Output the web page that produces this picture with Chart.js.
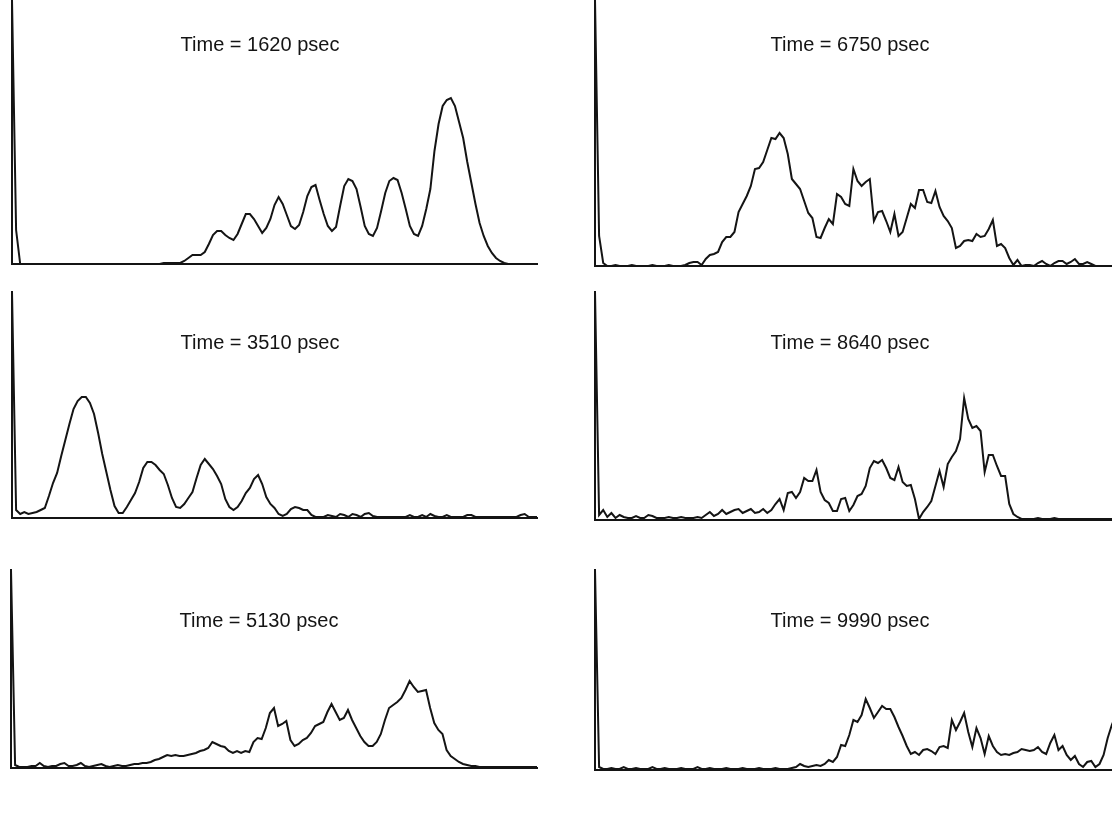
<!DOCTYPE html>
<html>
<head>
<meta charset="utf-8">
<script src="https://cdn.jsdelivr.net/npm/chart.js@4.4.1/dist/chart.umd.min.js"></script>
<style>
  html, body { margin: 0; padding: 0; background: #fff; }
  body { position: relative; width: 1112px; height: 825px; overflow: hidden; }
  canvas { position: absolute; }
</style>
</head>
<body>
<canvas id="c1620"></canvas>
<canvas id="c6750"></canvas>
<canvas id="c3510"></canvas>
<canvas id="c8640"></canvas>
<canvas id="c5130"></canvas>
<canvas id="c9990"></canvas>
<script>
// Time-of-flight channel numbers (0..128)
const channels = Array.from({ length: 129 }, (_, i) => i);

// Counts per channel (arbitrary units) at each snapshot time
const t1620 = [
  264, 34, 0, 0, 0, 0, 0, 0, 0, 0,
  0, 0, 0, 0, 0, 0, 0, 0, 0, 0,
  0, 0, 0, 0, 0, 0, 0, 0, 0, 0,
  0, 0, 0, 0, 0, 0, 0, 1, 1, 1,
  1, 1, 3, 6, 9, 9, 9, 12, 20, 29,
  33, 33, 29, 26, 24, 30, 40, 50, 50, 45,
  38, 31, 36, 45, 59, 67, 60, 49, 38, 35,
  39, 52, 68, 77, 79, 64, 50, 38, 33, 37,
  58, 78, 85, 83, 75, 57, 38, 30, 28, 36,
  53, 71, 83, 86, 84, 71, 55, 38, 30, 28,
  38, 55, 75, 113, 140, 158, 164, 166, 158, 142,
  126, 102, 81, 60, 41, 28, 18, 11, 6, 3,
  1, 0, 0, 0, 0, 0, 0, 0, 0
];

const t6750 = [
  266, 30, 3, 0, 0, 1, 0, 0, 0, 1,
  0, 0, 0, 0, 1, 0, 0, 0, 1, 0,
  0, 0, 1, 3, 4, 4, 1, 7, 11, 12,
  14, 24, 29, 29, 34, 54, 62, 70, 80, 97,
  98, 104, 116, 128, 127, 133, 128, 112, 87, 82,
  77, 65, 53, 48, 29, 28, 38, 47, 42, 72,
  69, 62, 60, 97, 85, 80, 84, 87, 45, 54,
  55, 45, 34, 52, 30, 34, 48, 62, 58, 76,
  76, 64, 63, 75, 59, 50, 45, 38, 18, 20,
  25, 26, 25, 32, 29, 30, 37, 46, 20, 22,
  18, 8, 1, 6, 0, 1, 1, 0, 3, 5,
  2, 0, 3, 5, 5, 2, 4, 7, 2, 2,
  4, 2, 0, 0, 0, 0, 0, 0, 0
];

const t3510 = [
  226, 8, 4, 6, 4, 5, 6, 8, 10, 22,
  35, 45, 62, 78, 94, 109, 117, 121, 121, 115,
  104, 85, 64, 46, 28, 12, 5, 5, 11, 18,
  25, 36, 50, 56, 56, 53, 48, 44, 33, 20,
  11, 10, 14, 20, 26, 40, 53, 59, 54, 49,
  42, 34, 19, 11, 8, 11, 17, 25, 30, 39,
  43, 34, 21, 14, 10, 4, 2, 4, 9, 11,
  10, 8, 8, 3, 1, 1, 1, 3, 2, 1,
  4, 3, 1, 4, 3, 1, 4, 5, 2, 1,
  1, 1, 1, 1, 1, 1, 1, 3, 1, 1,
  3, 1, 4, 2, 1, 1, 3, 1, 1, 1,
  1, 3, 3, 1, 1, 1, 1, 1, 1, 1,
  1, 1, 1, 1, 3, 4, 1, 1, 1
];

const t8640 = [
  228, 5, 10, 3, 7, 2, 5, 3, 2, 2,
  4, 2, 2, 5, 4, 2, 2, 2, 3, 2,
  2, 3, 2, 2, 2, 3, 2, 5, 8, 4,
  6, 10, 6, 8, 10, 11, 7, 9, 11, 7,
  8, 11, 7, 10, 16, 21, 10, 27, 28, 22,
  28, 42, 39, 39, 50, 28, 20, 17, 9, 9,
  21, 22, 9, 15, 24, 26, 34, 52, 59, 57,
  60, 52, 42, 40, 53, 38, 34, 35, 21, 1,
  8, 13, 19, 34, 49, 33, 56, 63, 69, 81,
  122, 101, 92, 94, 89, 48, 65, 65, 54, 44,
  44, 16, 6, 3, 1, 1, 1, 1, 2, 1,
  1, 1, 2, 1, 1, 1, 1, 1, 1, 1,
  1, 1, 1, 1, 1, 1, 1, 1, 1
];

const t5130 = [
  198, 3, 1, 1, 1, 2, 2, 5, 2, 1,
  2, 2, 4, 5, 2, 2, 3, 5, 2, 1,
  2, 3, 4, 2, 1, 2, 3, 2, 2, 3,
  4, 4, 5, 5, 6, 8, 9, 11, 13, 12,
  13, 12, 12, 13, 14, 15, 17, 18, 20, 26,
  24, 22, 21, 17, 15, 17, 15, 17, 16, 26,
  30, 29, 40, 55, 60, 42, 44, 47, 28, 22,
  24, 28, 30, 35, 42, 44, 46, 56, 64, 56,
  48, 50, 58, 48, 40, 32, 26, 22, 22, 26,
  34, 48, 60, 63, 66, 70, 78, 87, 81, 76,
  77, 78, 60, 45, 38, 34, 18, 12, 9, 6,
  4, 3, 2, 2, 1, 1, 1, 1, 1, 1,
  1, 1, 1, 1, 1, 1, 1, 1, 1
];

const t9990 = [
  200, 3, 1, 1, 2, 1, 1, 3, 1, 1,
  2, 1, 1, 1, 3, 1, 1, 2, 1, 1,
  1, 2, 1, 1, 1, 3, 1, 1, 2, 1,
  1, 1, 2, 1, 1, 1, 2, 1, 1, 1,
  2, 1, 1, 1, 2, 1, 1, 1, 2, 3,
  6, 4, 3, 4, 5, 4, 6, 10, 8, 13,
  25, 24, 35, 50, 48, 55, 71, 62, 52, 58,
  64, 61, 61, 53, 43, 34, 24, 16, 18, 15,
  20, 21, 19, 16, 23, 24, 22, 50, 40, 48,
  57, 38, 23, 42, 32, 16, 34, 24, 18, 15,
  16, 15, 17, 18, 21, 20, 19, 20, 23, 18,
  16, 27, 35, 20, 24, 15, 10, 14, 6, 3,
  8, 9, 3, 6, 15, 32, 45, 55, 52
];

const captions = {
  c1620: 'Time = 1620 psec',
  c6750: 'Time = 6750 psec',
  c3510: 'Time = 3510 psec',
  c8640: 'Time = 8640 psec',
  c5130: 'Time = 5130 psec',
  c9990: 'Time = 9990 psec'
};

// Panel frames on the page (plot area edges) and full-scale counts
const PAD = 4;
const panels = [
  { id: 'c1620', values: t1620, yMax: 264, left: 12,  top: 0,   right: 537,  bottom: 264 },
  { id: 'c6750', values: t6750, yMax: 266, left: 595, top: 0,   right: 1120, bottom: 266 },
  { id: 'c3510', values: t3510, yMax: 226, left: 12,  top: 292, right: 537,  bottom: 518 },
  { id: 'c8640', values: t8640, yMax: 228, left: 595, top: 292, right: 1120, bottom: 520 },
  { id: 'c5130', values: t5130, yMax: 198, left: 11,  top: 570, right: 537,  bottom: 768 },
  { id: 'c9990', values: t9990, yMax: 200, left: 595, top: 570, right: 1120, bottom: 770 }
];

// Caption placed inside the plot area, centred over the distribution
const panelCaption = {
  id: 'panelCaption',
  afterDraw(chart, args, opts) {
    const { ctx, chartArea } = chart;
    ctx.save();
    ctx.font = opts.font;
    ctx.fillStyle = opts.color;
    ctx.textAlign = 'center';
    ctx.textBaseline = 'middle';
    ctx.fillText(opts.text, chartArea.left + opts.x, chartArea.top + opts.y);
    ctx.restore();
  }
};

const INK = '#141414';

panels.forEach((p) => {
  const canvas = document.getElementById(p.id);
  canvas.width = p.right - p.left + 2 * PAD;
  canvas.height = p.bottom - p.top + 2 * PAD;
  canvas.style.left = (p.left - PAD) + 'px';
  canvas.style.top = (p.top - PAD) + 'px';

  const isLeft = p.left < 300;
  new Chart(canvas, {
    type: 'line',
    data: {
      datasets: [{
        data: p.values.map((v, i) => ({ x: channels[i], y: v })),
        borderColor: INK,
        borderWidth: 2,
        pointRadius: 0,
        tension: 0,
        fill: false,
        borderJoinStyle: 'miter'
      }]
    },
    options: {
      responsive: false,
      animation: false,
      events: [],
      devicePixelRatio: 1,
      layout: { padding: PAD },
      plugins: {
        legend: { display: false },
        tooltip: { enabled: false },
        panelCaption: {
          text: captions[p.id],
          x: isLeft ? 248 : 255,
          y: p.top === 0 ? 45 : 51,
          font: '20px "Liberation Sans", Arial, Helvetica, sans-serif',
          color: INK
        }
      },
      scales: {
        x: {
          type: 'linear',
          min: channels[0],
          max: channels[channels.length - 1],
          grid: { display: false, drawTicks: false },
          ticks: { display: false },
          border: { display: true, color: INK, width: 2 }
        },
        y: {
          type: 'linear',
          min: 0,
          max: p.yMax,
          grid: { display: false, drawTicks: false },
          ticks: { display: false },
          border: { display: true, color: INK, width: 2 }
        }
      }
    },
    plugins: [panelCaption]
  });
});
</script>
</body>
</html>
